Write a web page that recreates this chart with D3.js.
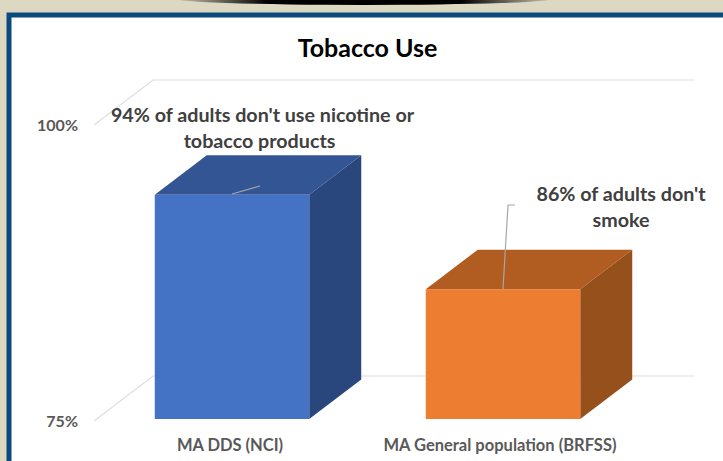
<!DOCTYPE html>
<html>
<head>
<meta charset="utf-8">
<script src="https://cdnjs.cloudflare.com/ajax/libs/d3/7.8.5/d3.min.js"></script>
<style>
  html, body { margin: 0; padding: 0; background: #ddd8c2; overflow: hidden; }
  text { font-family: Lato, "Noto Sans", sans-serif; font-weight: 700; }
</style>
</head>
<body>
<div id="chart"></div>
<script>
// chart data
const categories = ["MA DDS (NCI)", "MA General population (BRFSS)"];
const values = [94, 86];
const tickValues = [75, 100];
const notes = [
  ["94% of adults don't use nicotine or", "tobacco products"],
  ["86% of adults don't", "smoke"]
];
const frontColors = ["#4472c4", "#ed7d31"];
const topColors = ["#335593", "#b15d21"];
const sideColors = ["#2a477d", "#96501c"];

const width = 723,
      height = 461;

const svg = d3.select("#chart")
              .append("svg")
              .attr("width", width)
              .attr("height", height)
              .style("display", "block");

// slide frame
svg.append("rect")
   .attr("x", 9).attr("y", 15)
   .attr("width", 760).attr("height", 500)
   .attr("fill", "#fff")
   .attr("stroke", "#0b4a7d")
   .attr("stroke-width", 5);

// black shadow at the top edge
const shadow = svg.append("defs").append("linearGradient").attr("id", "shadow");
shadow.append("stop").attr("offset", "0").attr("stop-color", "#ddd8c2");
shadow.append("stop").attr("offset", "0.25").attr("stop-color", "#000");
shadow.append("stop").attr("offset", "0.75").attr("stop-color", "#000");
shadow.append("stop").attr("offset", "1").attr("stop-color", "#ddd8c2");
svg.append("ellipse")
   .attr("cx", 364).attr("cy", -2)
   .attr("rx", 195).attr("ry", 7)
   .attr("fill", "url(#shadow)");

// scales
const y = d3.scaleLinear().domain([75, 100]).range([419, 124]);
const yGrid = d3.scaleLinear().domain([75, 100]).range([421, 125]);
const x = d3.scaleBand().domain(categories).range([96.5, 638.5]).paddingInner(0.43).paddingOuter(0.215);
const depthX = 52,
      depthY = -39.5;
const wallX = 59,
      wallY = -45;

// gridlines, back wall and floor
tickValues.forEach(t => {
  svg.append("polyline")
     .attr("points", [[94, yGrid(t)], [94 + wallX, yGrid(t) + wallY], [694, yGrid(t) + wallY]].join(" "))
     .attr("fill", "none")
     .attr("stroke", "#dedede")
     .attr("stroke-width", 1.2);
  svg.append("text")
     .attr("x", 78)
     .attr("y", yGrid(t) + 6)
     .attr("text-anchor", "end")
     .attr("font-size", 16)
     .attr("fill", "#595959")
     .text(d3.format("d")(t) + "%");
});

// 3d bars
categories.forEach((c, i) => {
  const x0 = x(c),
        x1 = x(c) + x.bandwidth(),
        top = y(values[i]),
        bottom = y(75);
  svg.append("polygon")
     .attr("points", [[x0, top], [x0 + depthX, top + depthY], [x1 + depthX, top + depthY], [x1, top]].join(" "))
     .attr("fill", topColors[i]);
  svg.append("polygon")
     .attr("points", [[x1, top], [x1 + depthX, top + depthY], [x1 + depthX, bottom + depthY], [x1, bottom]].join(" "))
     .attr("fill", sideColors[i]);
  svg.append("rect")
     .attr("x", x0).attr("y", top)
     .attr("width", x1 - x0).attr("height", bottom - top)
     .attr("fill", frontColors[i]);
});

// category labels
const labelX = [230, 500];
categories.forEach((c, i) => {
  svg.append("text")
     .attr("x", labelX[i])
     .attr("y", 451)
     .attr("text-anchor", "middle")
     .attr("font-size", 16.5)
     .attr("fill", "#595959")
     .text(c);
});

// leader lines
svg.append("line")
   .attr("x1", 232).attr("y1", 194).attr("x2", 260).attr("y2", 186)
   .attr("stroke", "#a6a6a6").attr("stroke-width", 1.2);
svg.append("polyline")
   .attr("points", "503,289 508,205 515,205")
   .attr("fill", "none")
   .attr("stroke", "#a6a6a6").attr("stroke-width", 1.2);

// data notes, second line of the first one sits a bit left
const noteX = [[262.5, 259.5], [621, 621]],
      noteY = [122, 201];
notes.forEach((lines, i) => {
  lines.forEach((l, j) => {
    svg.append("text")
       .attr("x", noteX[i][j])
       .attr("y", noteY[i] + j * 26)
       .attr("text-anchor", "middle")
       .attr("font-size", 19.7)
       .attr("fill", "#404040")
       .text(l);
  });
});

// title
svg.append("text")
   .attr("x", 367.5)
   .attr("y", 57)
   .attr("text-anchor", "middle")
   .attr("font-size", 25)
   .attr("fill", "#000")
   .text("Tobacco Use");
</script>
</body>
</html>
